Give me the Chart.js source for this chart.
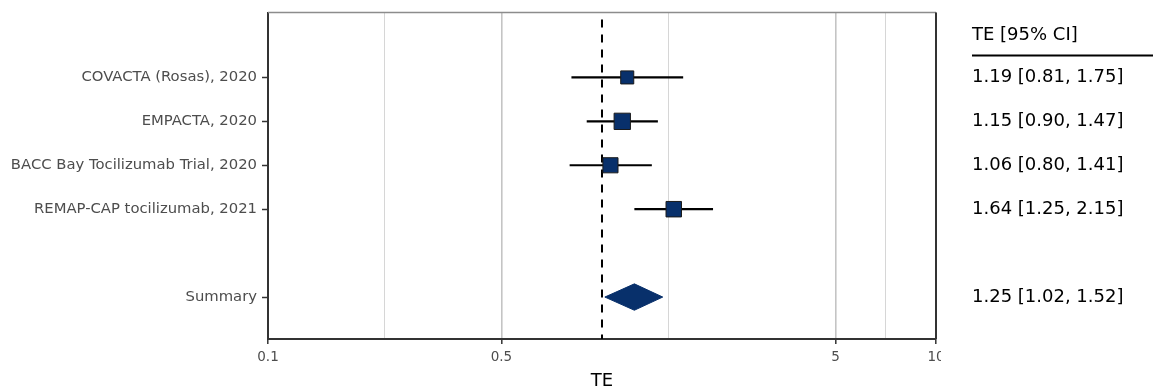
<!DOCTYPE html>
<html>
<head>
<meta charset="utf-8">
<script src="https://cdn.jsdelivr.net/npm/chart.js@4.4.1/dist/chart.umd.min.js"></script>
<style>
  html, body { margin: 0; padding: 0; background: #fff; }
  #wrap { width: 1153px; height: 392px; }
</style>
</head>
<body>
<div id="wrap"><canvas id="forest" width="1153" height="392"></canvas></div>
<script>
// studies sit on rows 1..4, summary on row 6
const studies = ['COVACTA (Rosas), 2020', 'EMPACTA, 2020', 'BACC Bay Tocilizumab Trial, 2020', 'REMAP-CAP tocilizumab, 2021'];
const te = [1.19, 1.15, 1.06, 1.64];
const lower = [0.81, 0.90, 0.80, 1.25];
const upper = [1.75, 1.47, 1.41, 2.15];

const summaryLabel = 'Summary';
const summaryTE = 1.25;
const summaryLower = 1.02;
const summaryUpper = 1.52;

const xTickLabels = [0.1, 0.5, 5, 10];
const refValue = 1;
const headerText = 'TE [95% CI]';
const xTitle = 'TE';

const SUMMARY_ROW = 6;
const Y_MIN = -0.477;
const Y_MAX = 6.955;
const DIAMOND_H = 0.3;
const NAVY = '#08306b';
const FONT = 'DejaVu Sans';

// box size grows with precision (1/se)
function boxSide(i) {
    const se = (Math.log(upper[i]) - Math.log(lower[i])) / 3.92;
    return 7.3 + 1.13 / se;
}

// minor breaks halfway (in log space) between labelled breaks
const minorTicks = [];
for (let i = 0; i < xTickLabels.length - 1; i++) {
    minorTicks.push(Math.sqrt(xTickLabels[i] * xTickLabels[i + 1]));
}
const isMajor = v => xTickLabels.some(t => Math.abs(t - v) < 1e-9);

const fmt = (e, l, u) => `${e.toFixed(2)} [${l.toFixed(2)}, ${u.toFixed(2)}]`;

const tablePlugin = {
    id: 'forestTable',
    beforeDraw(chart) {
        const ctx = chart.ctx;
        ctx.save();
        ctx.fillStyle = '#fff';
        ctx.fillRect(0, 0, chart.width, chart.height);
        ctx.restore();
    },
    afterDraw(chart) {
        const {ctx, chartArea: a} = chart;
        const y = chart.scales.y;
        ctx.save();

        // panel frame: top and right
        ctx.strokeStyle = '#8c8c8c';
        ctx.lineWidth = 1.5;
        ctx.beginPath();
        ctx.moveTo(a.left, a.top);
        ctx.lineTo(a.right, a.top);
        ctx.stroke();
        ctx.strokeStyle = '#333';
        ctx.lineWidth = 2;
        ctx.beginPath();
        ctx.moveTo(a.right, a.top);
        ctx.lineTo(a.right, a.bottom);
        ctx.stroke();

        // the last tick label is cut at the panel edge
        ctx.fillStyle = '#fff';
        ctx.fillRect(a.right + 5, a.bottom + 6, 30, 60);

        // right-hand table
        const tx = 972;
        ctx.fillStyle = '#000';
        ctx.font = `18px "${FONT}"`;
        ctx.textAlign = 'left';
        ctx.textBaseline = 'middle';
        ctx.fillText(headerText, tx, y.getPixelForValue(0) + 2);
        ctx.strokeStyle = '#000';
        ctx.lineWidth = 2;
        ctx.beginPath();
        const uy = y.getPixelForValue(0.5);
        ctx.moveTo(tx, uy);
        ctx.lineTo(chart.width, uy);
        ctx.stroke();
        te.forEach((v, i) => {
            ctx.fillText(fmt(v, lower[i], upper[i]), tx, y.getPixelForValue(i + 1));
        });
        ctx.fillText(fmt(summaryTE, summaryLower, summaryUpper), tx, y.getPixelForValue(SUMMARY_ROW));
        ctx.restore();
    }
};

const ciSets = studies.map((s, i) => ({
    type: 'line',
    data: [{x: lower[i], y: i + 1}, {x: upper[i], y: i + 1}],
    borderColor: '#000',
    borderWidth: 2.2,
    pointRadius: 0,
    order: 2
}));

const datasets = [
    {
        // reference line at 1
        type: 'line',
        data: [{x: refValue, y: Y_MIN}, {x: refValue, y: Y_MAX}],
        borderColor: '#000',
        borderWidth: 2,
        borderDash: [8, 7],
        borderDashOffset: 8,
        pointRadius: 0,
        order: 3
    },
    ...ciSets,
    {
        // summary diamond
        type: 'line',
        data: [
            {x: summaryLower, y: SUMMARY_ROW},
            {x: summaryTE, y: SUMMARY_ROW - DIAMOND_H},
            {x: summaryUpper, y: SUMMARY_ROW},
            {x: summaryTE, y: SUMMARY_ROW + DIAMOND_H},
            {x: summaryLower, y: SUMMARY_ROW}
        ],
        fill: 'shape',
        backgroundColor: NAVY,
        borderColor: NAVY,
        borderWidth: 1,
        pointRadius: 0,
        tension: 0,
        order: 1
    },
    {
        type: 'scatter',
        data: te.map((v, i) => ({x: v, y: i + 1})),
        pointStyle: 'rect',
        pointRadius: c => boxSide(c.dataIndex) / Math.SQRT2,
        pointHoverRadius: c => boxSide(c.dataIndex) / Math.SQRT2,
        backgroundColor: NAVY,
        borderColor: '#1a1a1a',
        borderWidth: 1,
        order: 0
    }
];

new Chart(document.getElementById('forest'), {
    type: 'scatter',
    data: {datasets: datasets},
    plugins: [tablePlugin],
    options: {
        responsive: false,
        animation: false,
        events: [],
        layout: {padding: {top: 12, right: 217, bottom: 0, left: 0}},
        plugins: {
            legend: {display: false},
            tooltip: {enabled: false}
        },
        scales: {
            x: {
                type: 'logarithmic',
                min: 0.1,
                max: 10,
                afterBuildTicks: scale => {
                    scale.ticks = xTickLabels.concat(minorTicks)
                        .sort((a, b) => a - b)
                        .map(v => ({value: v}));
                },
                afterFit: scale => {
                    scale.height = 53;
                    scale.paddingLeft = 0;
                    scale.paddingRight = 0;
                },
                ticks: {
                    autoSkip: false,
                    maxRotation: 0,
                    padding: 5,
                    color: '#4d4d4d',
                    font: {family: FONT, size: 13.5},
                    callback: v => isMajor(v) ? String(v) : ''
                },
                grid: {
                    color: c => c.tick && isMajor(c.tick.value) ? '#c4c4c4' : '#d6d6d6',
                    lineWidth: c => c.tick && isMajor(c.tick.value) ? 1.6 : 1,
                    tickColor: c => c.tick && isMajor(c.tick.value) ? '#333' : 'rgba(0,0,0,0)',
                    tickLength: 5,
                    tickWidth: 1.5
                },
                border: {color: '#333', width: 2},
                title: {
                    display: true,
                    text: xTitle,
                    color: '#000',
                    font: {family: FONT, size: 18},
                    padding: {top: 0, bottom: 0}
                }
            },
            y: {
                type: 'linear',
                reverse: true,
                min: Y_MIN,
                max: Y_MAX,
                afterBuildTicks: scale => {
                    scale.ticks = studies.map((s, i) => ({value: i + 1}))
                        .concat([{value: SUMMARY_ROW}]);
                },
                afterFit: scale => {
                    scale.width = 268;
                    scale.paddingTop = 0;
                    scale.paddingBottom = 0;
                },
                ticks: {
                    autoSkip: false,
                    padding: 5,
                    color: '#4d4d4d',
                    font: {family: FONT, size: 14.8},
                    callback: v => v === SUMMARY_ROW ? summaryLabel : (studies[v - 1] || '')
                },
                grid: {
                    drawOnChartArea: false,
                    tickColor: '#333',
                    tickLength: 6,
                    tickWidth: 1.5
                },
                border: {color: '#333', width: 2}
            }
        }
    }
});
</script>
</body>
</html>
